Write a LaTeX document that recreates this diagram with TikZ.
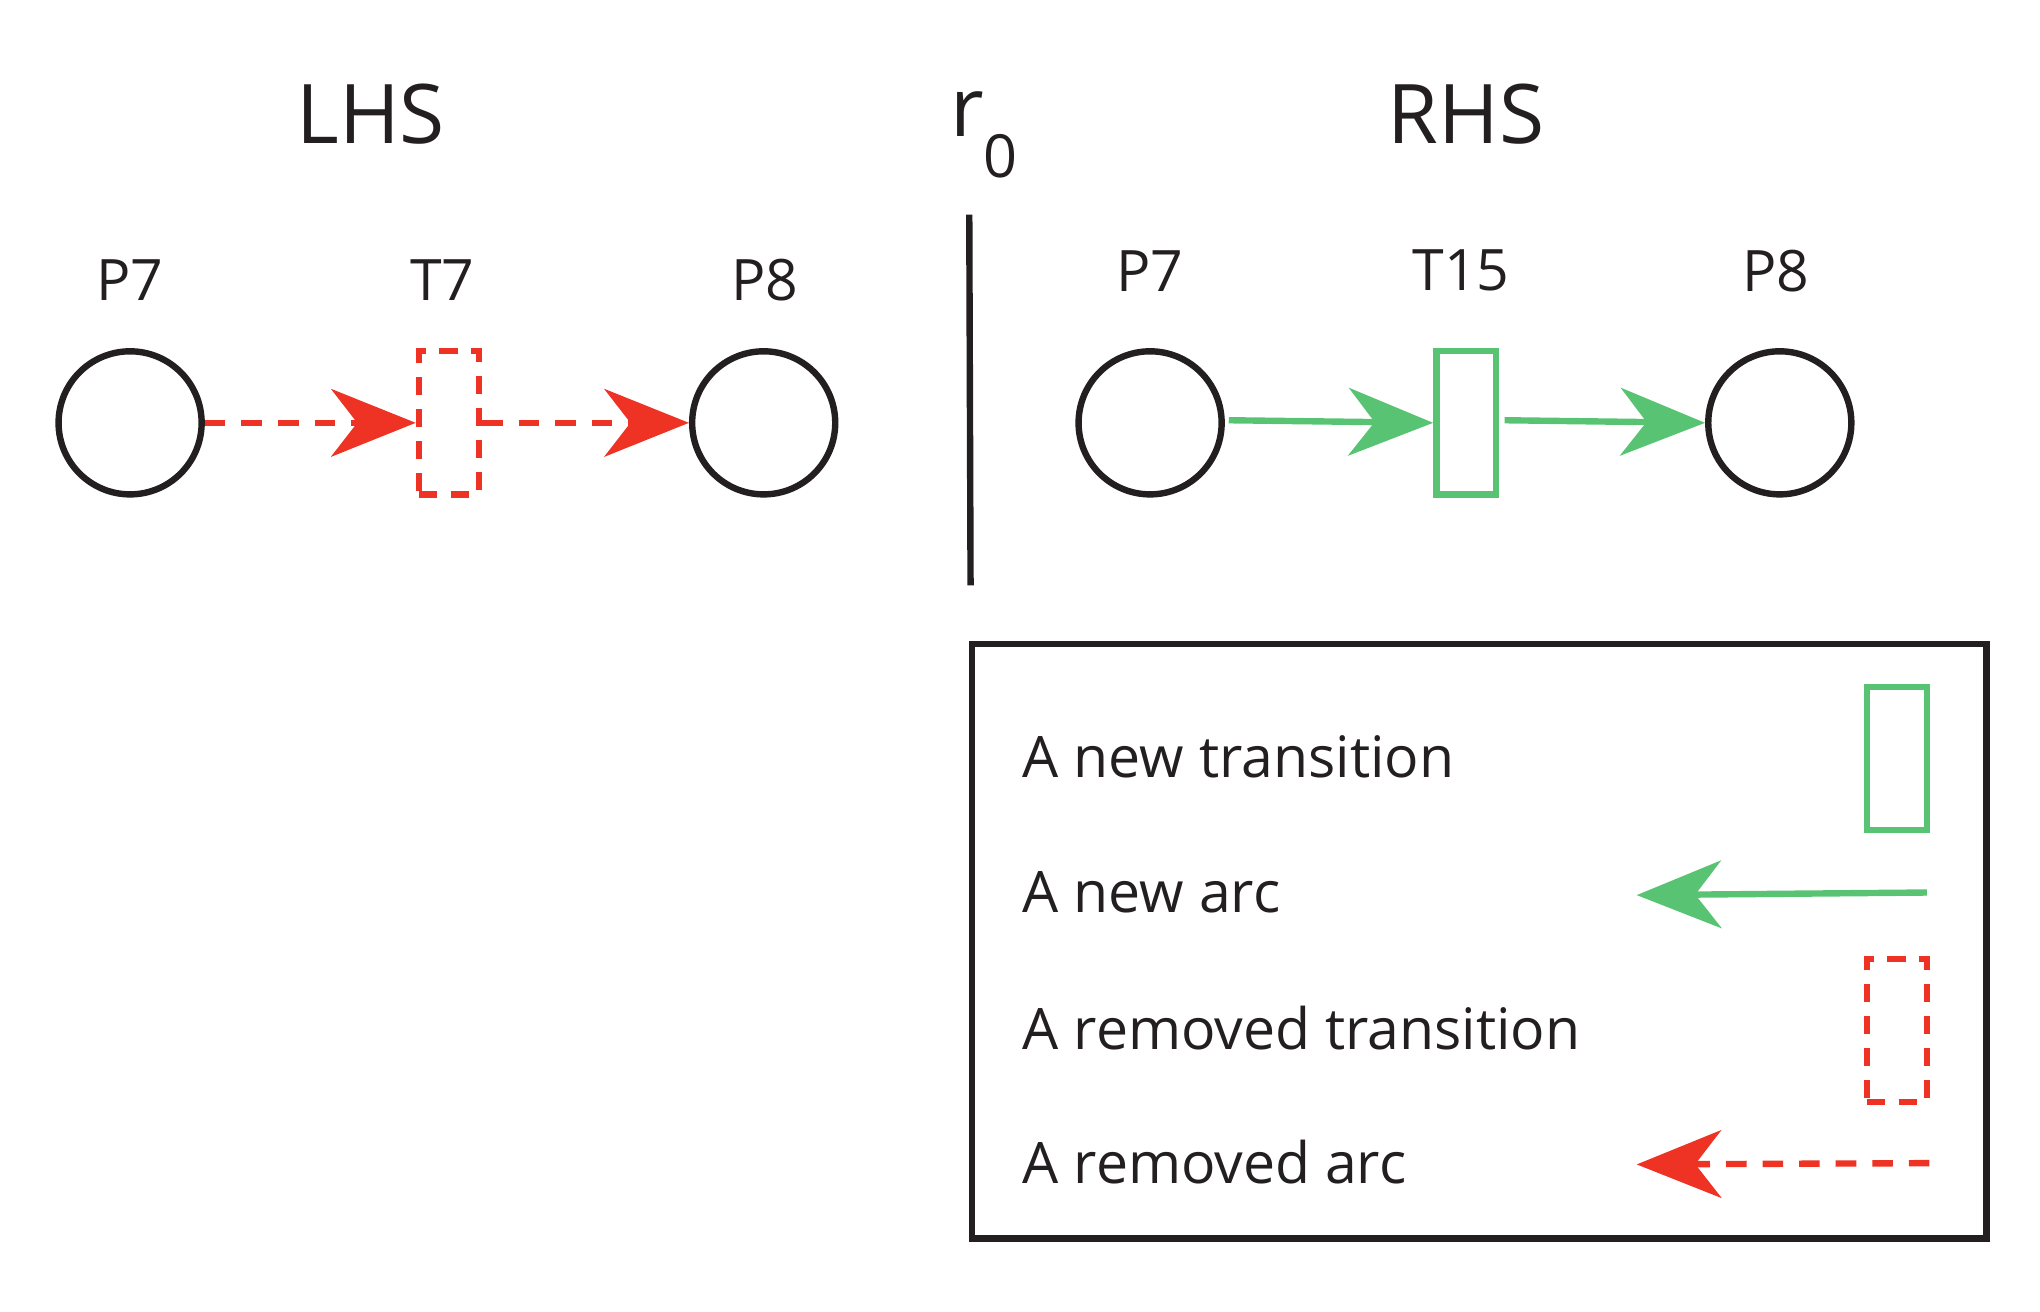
\documentclass[tikz,border=0pt]{standalone}
\usepackage{fontspec}
\setmainfont{Open Sans}
\usetikzlibrary{arrows.meta}
\definecolor{tg}{RGB}{88,196,115}
\definecolor{tr}{RGB}{238,50,36}
\definecolor{tk}{RGB}{35,31,32}
\begin{document}
\begin{tikzpicture}[x=0.02cm,y=-0.02cm,
  place/.style={circle,draw=tk,line width=2.8pt,minimum size=2.2cm,inner sep=0},
  trans/.style={rectangle,draw=tg,line width=2.8pt,minimum width=0.92cm,minimum height=2.2cm,inner sep=0},
  rtrans/.style={rectangle,draw=tr,line width=2.8pt,dash pattern=on 8pt off 6pt,minimum width=0.92cm,minimum height=2.2cm,inner sep=0},
  lbl/.style={text=tk,font=\fontsize{25}{30}\selectfont},
  big/.style={text=tk,font=\fontsize{36}{42}\selectfont},
  leg/.style={text=tk,font=\fontsize{25}{30}\selectfont,anchor=west},
  garc/.style={draw=tg,line width=2.8pt,-{Stealth[length=1.3cm,width=1.04cm,inset=0.4cm,fill=tg]}},
  rarc/.style={draw=tr,line width=2.8pt,dash pattern=on 9pt off 7pt,-{Stealth[length=1.3cm,width=1.04cm,inset=0.4cm,fill=tr]}}]
\useasboundingbox (0,0) rectangle (1568,1008);
\node[big] (lhs) at (285,88) {LHS};
\node[big,anchor=base west] (r0) at (724,105) {r\raisebox{-0.5em}{\fontsize{26}{30}\selectfont 0}};
\node[big] (rhs) at (1127,88) {RHS};
\node[lbl] (lp7) at (100,215) {P7};
\node[lbl] (lt7) at (340,215) {T7};
\node[lbl] (lp8) at (588,215) {P8};
\node[place] (p7a) at (100,325) {};
\node[rtrans] (t7) at (345,325) {};
\node[place] (p8a) at (587,325) {};
\draw[rarc] (p7a.east) -- (t7.west);
\draw[rarc] (t7.east) -- (p8a.west);
\coordinate (d1) at (745,165); \coordinate (d2) at (746,450);
\draw[tk,line width=2.8pt] (d1) -- (d2);
\node[lbl] (rp7) at (884,208) {P7};
\node[lbl] (rt15) at (1123,208) {T15};
\node[lbl] (rp8) at (1365,208) {P8};
\node[place] (p7b) at (884,325) {};
\node[trans] (t15) at (1127,325) {};
\node[place] (p8b) at (1368,325) {};
\draw[garc] (p7b.east)+(3,-2) -- (t15.west);
\draw[garc] (t15.east)+(4,-2) -- (p8b.west);
\node[draw=tk,line width=2.8pt,minimum width=15.6cm,minimum height=9.14cm,inner sep=0] (box) at (1137,723.5) {};
\node[leg] (l1) at (780,582) {A new transition};
\node[leg] (l2) at (780,686) {A new arc};
\node[leg] (l3) at (780,790) {A removed transition};
\node[leg] (l4) at (780,893) {A removed arc};
\node[trans] (lt) at (1458,583) {};
\node[rtrans] (lrt) at (1458,792) {};
\coordinate (a1s) at (1481,686); \coordinate (a1e) at (1258,688);
\coordinate (a2s) at (1483,894); \coordinate (a2e) at (1258,895);
\draw[garc] (a1s) -- (a1e);
\draw[rarc] (a2s) -- (a2e);
\end{tikzpicture}
\end{document}
